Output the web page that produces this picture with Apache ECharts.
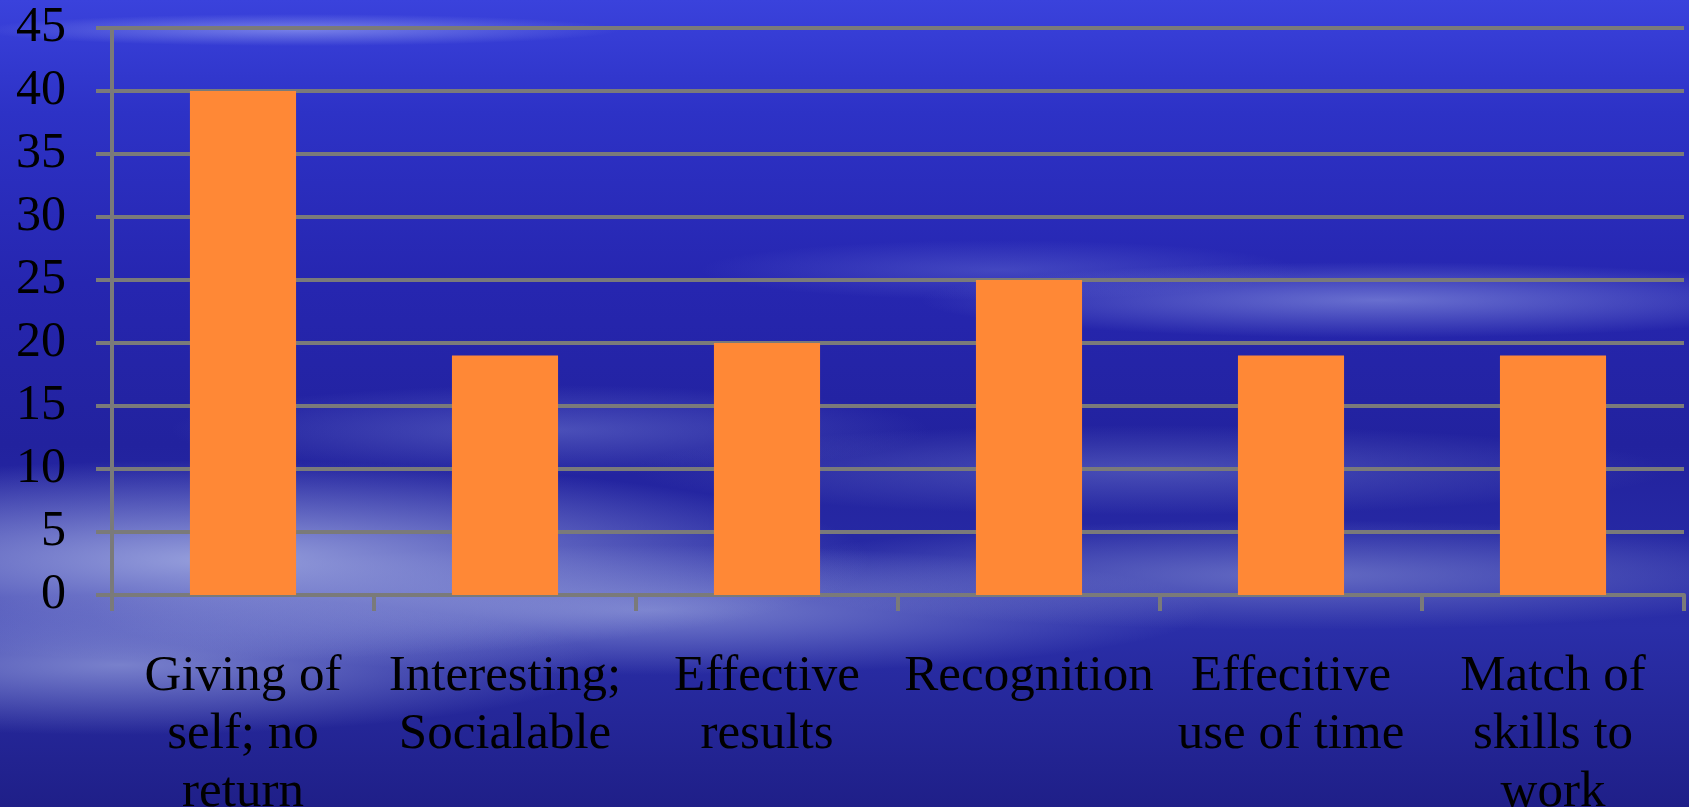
<!DOCTYPE html>
<html>
<head>
<meta charset="utf-8">
<script src="https://cdn.jsdelivr.net/npm/echarts@6/dist/echarts.min.js"></script>
<style>
html,body{margin:0;padding:0;width:1689px;height:807px;overflow:hidden;}
body{
background:
 radial-gradient(ellipse 320px 16px at 300px 30px, rgba(170,180,245,0.55), rgba(170,180,245,0) 100%),
 radial-gradient(ellipse 460px 38px at 1380px 300px, rgba(140,150,225,0.65), rgba(140,150,225,0) 100%),
 radial-gradient(ellipse 300px 30px at 1000px 270px, rgba(120,130,220,0.35), rgba(120,130,220,0) 100%),
 radial-gradient(ellipse 520px 45px at 1150px 470px, rgba(120,130,210,0.45), rgba(120,130,210,0) 100%),
 radial-gradient(ellipse 560px 55px at 1300px 575px, rgba(140,150,215,0.6), rgba(140,150,215,0) 100%),
 radial-gradient(ellipse 650px 100px at 220px 560px, rgba(170,180,230,0.85), rgba(170,180,230,0) 100%),
 radial-gradient(ellipse 480px 70px at 120px 665px, rgba(155,165,222,0.7), rgba(155,165,222,0) 100%),
 radial-gradient(ellipse 560px 65px at 650px 610px, rgba(150,160,220,0.7), rgba(150,160,220,0) 100%),
 radial-gradient(ellipse 380px 45px at 550px 430px, rgba(115,125,210,0.5), rgba(115,125,210,0) 100%),
 linear-gradient(to bottom, #3a42dc 0%, #2d32c6 14%, #2626b0 35%, #22229e 55%, #2a2ea8 78%, #1f1f88 100%);
}
#main{width:1689px;height:807px;}
</style>
</head>
<body>
<div id="main"></div>
<script>
const categories = ["Giving of\nself; no\nreturn", "Interesting;\nSocialable", "Effective\nresults", "Recognition", "Effecitive\nuse of time", "Match of\nskills to\nwork"];
const values = [40, 19, 20, 25, 19, 19];
const yTicks = [0, 5, 10, 15, 20, 25, 30, 35, 40, 45];

const chart = echarts.init(document.getElementById('main'), null, {renderer: 'canvas'});
const gray = '#7a7a7a';
chart.setOption({
  backgroundColor: 'transparent',
  animation: false,
  grid: {left: 112, right: 5, top: 28, bottom: 212, containLabel: false, outerBoundsMode: 'none'},
  xAxis: {
    type: 'category',
    data: categories,
    axisLine: {show: true, lineStyle: {color: gray, width: 4}},
    axisTick: {show: true, length: 16, alignWithLabel: false, lineStyle: {color: gray, width: 4}},
    axisLabel: {interval: 0, margin: 53, color: '#000', fontFamily: 'Liberation Serif', fontSize: 51, lineHeight: 58},
    splitLine: {show: false}
  },
  yAxis: {
    type: 'value',
    min: yTicks[0],
    max: yTicks[yTicks.length - 1],
    interval: 5,
    axisLine: {show: true, lineStyle: {color: gray, width: 4}},
    axisTick: {show: true, length: 16, lineStyle: {color: gray, width: 4}},
    axisLabel: {margin: 46, color: '#000', fontFamily: 'Liberation Serif', fontSize: 50},
    splitLine: {show: true, lineStyle: {color: gray, width: 4}}
  },
  series: [{
    type: 'bar',
    data: values,
    barWidth: '40.5%',
    itemStyle: {color: '#ff8836'}
  }]
});
</script>
</body>
</html>
